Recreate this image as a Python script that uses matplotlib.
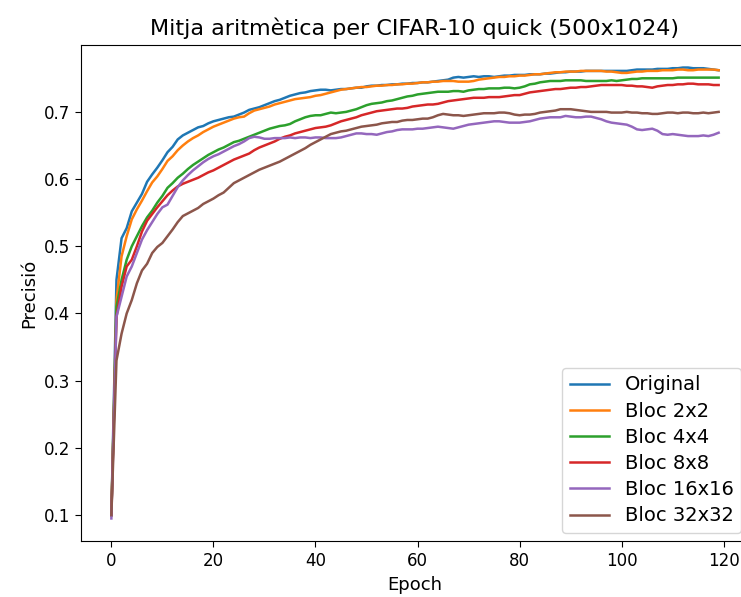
import matplotlib
matplotlib.use("Agg")
import matplotlib.pyplot as plt

epochs = list(range(120))

original = [0.100, 0.450, 0.512, 0.527, 0.552, 0.565, 0.578, 0.596, 0.607, 0.617,
            0.628, 0.640, 0.648, 0.659, 0.665, 0.669, 0.673, 0.677, 0.679, 0.683,
            0.686, 0.688, 0.690, 0.692, 0.693, 0.696, 0.699, 0.703, 0.705, 0.707,
            0.710, 0.713, 0.716, 0.718, 0.721, 0.724, 0.726, 0.728, 0.729, 0.731,
            0.732, 0.733, 0.733, 0.732, 0.733, 0.734, 0.734, 0.735, 0.736, 0.736,
            0.738, 0.739, 0.739, 0.740, 0.740, 0.741, 0.741, 0.742, 0.742, 0.743,
            0.743, 0.744, 0.744, 0.745, 0.746, 0.747, 0.748, 0.751, 0.752, 0.751,
            0.752, 0.753, 0.752, 0.753, 0.753, 0.752, 0.753, 0.754, 0.754, 0.755,
            0.755, 0.755, 0.756, 0.756, 0.756, 0.757, 0.757, 0.758, 0.759, 0.759,
            0.760, 0.760, 0.760, 0.761, 0.761, 0.761, 0.761, 0.761, 0.761, 0.761,
            0.761, 0.761, 0.762, 0.763, 0.763, 0.763, 0.763, 0.764, 0.764, 0.764,
            0.765, 0.765, 0.766, 0.766, 0.765, 0.765, 0.765, 0.764, 0.763, 0.762]

bloc_2x2 = [0.100, 0.420, 0.485, 0.515, 0.540, 0.555, 0.568, 0.582, 0.595, 0.604,
            0.615, 0.627, 0.634, 0.643, 0.650, 0.656, 0.661, 0.665, 0.670, 0.674,
            0.678, 0.681, 0.684, 0.687, 0.690, 0.692, 0.693, 0.698, 0.702, 0.704,
            0.706, 0.708, 0.711, 0.713, 0.715, 0.717, 0.719, 0.720, 0.721, 0.722,
            0.724, 0.725, 0.727, 0.729, 0.731, 0.733, 0.734, 0.735, 0.736, 0.737,
            0.737, 0.738, 0.739, 0.739, 0.740, 0.740, 0.741, 0.741, 0.742, 0.742,
            0.743, 0.744, 0.744, 0.745, 0.745, 0.746, 0.746, 0.746, 0.745, 0.745,
            0.745, 0.746, 0.748, 0.749, 0.750, 0.751, 0.752, 0.752, 0.753, 0.753,
            0.754, 0.754, 0.755, 0.756, 0.756, 0.757, 0.758, 0.759, 0.759, 0.760,
            0.760, 0.760, 0.761, 0.761, 0.761, 0.761, 0.761, 0.760, 0.760, 0.759,
            0.758, 0.758, 0.759, 0.760, 0.760, 0.761, 0.761, 0.761, 0.762, 0.762,
            0.762, 0.763, 0.763, 0.762, 0.762, 0.763, 0.763, 0.763, 0.763, 0.762]

bloc_4x4 = [0.100, 0.410, 0.450, 0.480, 0.500, 0.515, 0.530, 0.543, 0.553, 0.565,
            0.575, 0.587, 0.594, 0.602, 0.608, 0.615, 0.621, 0.626, 0.631, 0.636,
            0.640, 0.644, 0.647, 0.651, 0.655, 0.657, 0.660, 0.663, 0.666, 0.669,
            0.672, 0.675, 0.677, 0.679, 0.680, 0.682, 0.686, 0.689, 0.692, 0.694,
            0.695, 0.695, 0.697, 0.699, 0.698, 0.699, 0.700, 0.702, 0.704, 0.707,
            0.710, 0.712, 0.713, 0.714, 0.716, 0.717, 0.719, 0.721, 0.723, 0.724,
            0.726, 0.727, 0.728, 0.729, 0.730, 0.730, 0.730, 0.731, 0.731, 0.730,
            0.732, 0.733, 0.734, 0.734, 0.735, 0.735, 0.735, 0.736, 0.736, 0.735,
            0.736, 0.738, 0.741, 0.742, 0.744, 0.745, 0.746, 0.746, 0.746, 0.747,
            0.747, 0.747, 0.747, 0.746, 0.746, 0.746, 0.746, 0.746, 0.747, 0.746,
            0.747, 0.748, 0.749, 0.749, 0.750, 0.750, 0.750, 0.750, 0.750, 0.750,
            0.750, 0.751, 0.751, 0.751, 0.751, 0.751, 0.751, 0.751, 0.751, 0.751]

bloc_8x8 = [0.100, 0.395, 0.440, 0.470, 0.480, 0.500, 0.522, 0.538, 0.548, 0.558,
            0.567, 0.576, 0.583, 0.589, 0.593, 0.596, 0.599, 0.602, 0.606, 0.610,
            0.613, 0.617, 0.621, 0.625, 0.629, 0.632, 0.635, 0.638, 0.643, 0.647,
            0.650, 0.653, 0.656, 0.660, 0.663, 0.665, 0.668, 0.670, 0.672, 0.674,
            0.676, 0.677, 0.678, 0.680, 0.683, 0.686, 0.688, 0.690, 0.692, 0.695,
            0.697, 0.699, 0.701, 0.702, 0.703, 0.704, 0.705, 0.705, 0.706, 0.708,
            0.709, 0.710, 0.711, 0.711, 0.712, 0.714, 0.716, 0.717, 0.718, 0.719,
            0.720, 0.721, 0.721, 0.721, 0.722, 0.722, 0.722, 0.723, 0.724, 0.725,
            0.725, 0.727, 0.729, 0.730, 0.731, 0.732, 0.733, 0.734, 0.734, 0.735,
            0.736, 0.736, 0.737, 0.737, 0.738, 0.739, 0.740, 0.740, 0.740, 0.740,
            0.740, 0.739, 0.739, 0.738, 0.738, 0.737, 0.736, 0.738, 0.739, 0.740,
            0.740, 0.741, 0.741, 0.742, 0.742, 0.741, 0.741, 0.741, 0.740, 0.740]

bloc_16x16 = [0.095, 0.395, 0.425, 0.455, 0.470, 0.490, 0.510, 0.524, 0.536, 0.548,
              0.558, 0.562, 0.575, 0.588, 0.598, 0.606, 0.613, 0.619, 0.625, 0.630,
              0.634, 0.637, 0.641, 0.645, 0.649, 0.652, 0.656, 0.661, 0.663, 0.662,
              0.660, 0.660, 0.661, 0.661, 0.661, 0.662, 0.661, 0.662, 0.662, 0.661,
              0.662, 0.662, 0.661, 0.661, 0.661, 0.662, 0.664, 0.666, 0.668, 0.668,
              0.667, 0.667, 0.666, 0.668, 0.670, 0.671, 0.673, 0.674, 0.674, 0.674,
              0.675, 0.675, 0.676, 0.677, 0.678, 0.677, 0.676, 0.675, 0.677, 0.679,
              0.681, 0.682, 0.683, 0.684, 0.685, 0.686, 0.686, 0.685, 0.684, 0.684,
              0.684, 0.685, 0.686, 0.688, 0.690, 0.691, 0.692, 0.692, 0.692, 0.694,
              0.693, 0.692, 0.692, 0.693, 0.693, 0.691, 0.689, 0.686, 0.684, 0.683,
              0.682, 0.681, 0.678, 0.674, 0.673, 0.674, 0.675, 0.672, 0.667, 0.666,
              0.667, 0.666, 0.665, 0.664, 0.664, 0.664, 0.665, 0.664, 0.666, 0.669]

bloc_32x32 = [0.100, 0.330, 0.370, 0.400, 0.420, 0.445, 0.464, 0.474, 0.490, 0.499,
              0.505, 0.515, 0.525, 0.536, 0.545, 0.549, 0.553, 0.557, 0.563, 0.567,
              0.571, 0.576, 0.580, 0.587, 0.594, 0.598, 0.602, 0.606, 0.610, 0.614,
              0.617, 0.620, 0.623, 0.626, 0.630, 0.634, 0.638, 0.642, 0.646, 0.651,
              0.655, 0.659, 0.663, 0.667, 0.669, 0.671, 0.672, 0.674, 0.676, 0.678,
              0.679, 0.680, 0.681, 0.683, 0.684, 0.685, 0.685, 0.687, 0.688, 0.688,
              0.689, 0.690, 0.690, 0.692, 0.695, 0.697, 0.696, 0.695, 0.695, 0.694,
              0.695, 0.696, 0.697, 0.698, 0.698, 0.698, 0.699, 0.699, 0.698, 0.696,
              0.695, 0.696, 0.696, 0.697, 0.699, 0.700, 0.701, 0.702, 0.704, 0.704,
              0.704, 0.703, 0.702, 0.701, 0.700, 0.700, 0.700, 0.700, 0.699, 0.699,
              0.699, 0.700, 0.699, 0.699, 0.698, 0.698, 0.697, 0.697, 0.698, 0.699,
              0.699, 0.698, 0.699, 0.699, 0.698, 0.698, 0.699, 0.698, 0.699, 0.700]

series = [original, bloc_2x2, bloc_4x4, bloc_8x8, bloc_16x16, bloc_32x32]
labels = ["Original", "Bloc 2x2", "Bloc 4x4", "Bloc 8x8", "Bloc 16x16", "Bloc 32x32"]
title = "Mitja aritmètica per CIFAR-10 quick (500x1024)"
xlabel = "Epoch"
ylabel = "Precisió"

fig = plt.figure(figsize=(7.41, 5.97), dpi=100)
ax = fig.add_axes([81 / 741, 56 / 597, 668 / 741, 496 / 597])
for vals, lab in zip(series, labels):
    ax.plot(epochs, vals, label=lab, linewidth=1.8)

ax.set_title(title, fontsize=16, pad=7)
ax.set_xlabel(xlabel, fontsize=13)
ax.set_ylabel(ylabel, fontsize=13)
ax.tick_params(labelsize=12, length=4.5)
ax.set_xticks([0, 20, 40, 60, 80, 100, 120])
ax.set_yticks([0.1, 0.2, 0.3, 0.4, 0.5, 0.6, 0.7])
ax.legend(loc="lower right", fontsize=14, labelspacing=0.37,
          borderaxespad=0.4)

fig.savefig("out.png", dpi=100)
